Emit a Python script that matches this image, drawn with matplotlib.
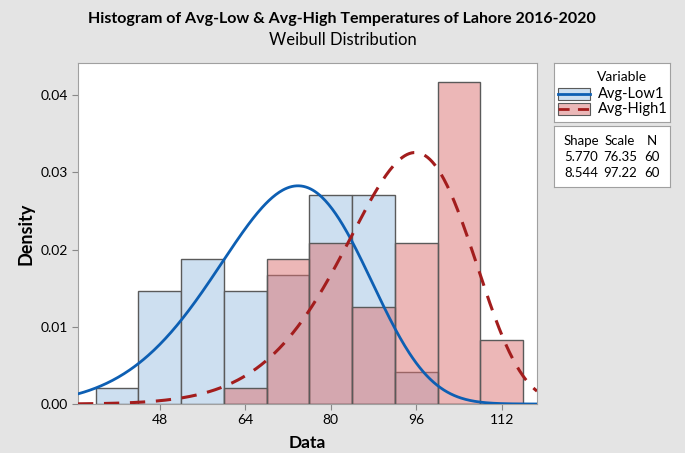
import matplotlib.pyplot as plt
import numpy as np
from matplotlib.patches import Rectangle
from matplotlib.lines import Line2D

plt.rcParams['font.family'] = ['Lato', 'DejaVu Sans']

# histogram bins (width 8) and counts, N = 60 each
bin_edges = [36, 44, 52, 60, 68, 76, 84, 92, 100, 108, 116]
low_counts = [1, 7, 9, 7, 8, 13, 13, 2, 0, 0]
high_counts = [0, 0, 0, 1, 9, 10, 6, 10, 20, 4]

# fitted Weibull parameters shown in the legend
variables = ["Avg-Low1", "Avg-High1"]
shapes = [5.770, 8.544]
scales = [76.35, 97.22]
n_obs = [60, 60]

x_ticks = [48, 64, 80, 96, 112]
y_ticks = [0.00, 0.01, 0.02, 0.03, 0.04]

bg = "#e4e4e4"
blue_fill = "#cddff0"
red_fill = (0.86, 0.44, 0.44, 0.5)
blue_line = "#0d5fb3"
red_line = "#a31d1d"
edge = "#5a5a5a"


def weibull_pdf(x, k, lam):
    z = x / lam
    return (k / lam) * z ** (k - 1) * np.exp(-z ** k)


fig = plt.figure(figsize=(6.85, 4.53), dpi=100, facecolor=bg)
W, H = 685, 453
ax = fig.add_axes([78 / W, 1 - 404 / H, (537 - 78) / W, (404 - 63) / H])
ax.set_facecolor("white")

edges = np.array(bin_edges)
width = np.diff(edges)
lefts = edges[:-1]
low_dens = np.array(low_counts) / (sum(low_counts) * width)
high_dens = np.array(high_counts) / (sum(high_counts) * width)

ax.bar(lefts, low_dens, width=width, align="edge", color=blue_fill,
       edgecolor=edge, linewidth=1.0, zorder=2)
mask = high_dens > 0
ax.bar(lefts[mask], high_dens[mask], width=width[mask], align="edge", color=red_fill,
       edgecolor=edge, linewidth=1.0, zorder=3)

xmin, xmax = 32.7, 118.6
xs = np.linspace(xmin, xmax, 400)
ax.plot(xs, weibull_pdf(xs, shapes[0], scales[0]), color=blue_line, lw=2.0, zorder=4)
ax.plot(xs, weibull_pdf(xs, shapes[1], scales[1]), color=red_line, lw=2.2,
        dashes=(5, 3.5), zorder=4)

ax.set_xlim(xmin, xmax)
ax.set_ylim(0, 0.04415)
ax.set_xticks(x_ticks)
ax.set_yticks(y_ticks)
ax.set_yticklabels([f"{v:.2f}" for v in y_ticks])
ax.tick_params(labelsize=10, color="#888888", length=4)
for s in ax.spines.values():
    s.set_color("#a0a0a0")
ax.set_xlabel("Data", fontsize=12.5, fontweight="bold", labelpad=6)
ax.set_ylabel("Density", fontsize=13, fontweight="bold", labelpad=4)

fig.text(342 / W, 1 - 19 / H, "Histogram of Avg-Low & Avg-High Temperatures of Lahore 2016-2020",
         ha="center", va="center", fontsize=11.5, fontweight="bold")
fig.text(343 / W, 1 - 40 / H, "Weibull Distribution", ha="center", va="center", fontsize=12)

# legend box with variables
lg = fig.add_axes([554 / W, 1 - 122 / H, (670 - 554) / W, (122 - 63) / H])
lg.set_xlim(0, 116)
lg.set_ylim(59, 0)
lg.set_xticks([])
lg.set_yticks([])
lg.set_facecolor("white")
for s in lg.spines.values():
    s.set_color("#a0a0a0")
lg.text(68, 14, "Variable", ha="center", va="center", fontsize=10)
fills = [blue_fill, (0.92, 0.72, 0.72)]
styles = [dict(color=blue_line, lw=2.0), dict(color=red_line, lw=2.0, dashes=(4, 3))]
for i, name in enumerate(variables):
    y = 31 + i * 15
    lg.add_patch(Rectangle((4, y - 6), 32, 12, facecolor=fills[i], edgecolor=edge, lw=0.8))
    lg.add_line(Line2D([4, 36], [y, y], **styles[i]))
    lg.text(44, y, name, ha="left", va="center", fontsize=10.5)

# legend box with parameters
tb = fig.add_axes([554 / W, 1 - 187 / H, (670 - 554) / W, (187 - 126) / H])
tb.set_xlim(0, 116)
tb.set_ylim(61, 0)
tb.set_xticks([])
tb.set_yticks([])
tb.set_facecolor("white")
for s in tb.spines.values():
    s.set_color("#a0a0a0")
col_x = [27, 66, 98]
for j, head in enumerate(["Shape", "Scale", "N"]):
    tb.text(col_x[j], 15, head, ha="center", va="center", fontsize=9.5)
for i in range(len(variables)):
    y = 31 + i * 16
    tb.text(col_x[0], y, f"{shapes[i]:.3f}", ha="center", va="center", fontsize=9.5)
    tb.text(col_x[1], y, f"{scales[i]:.2f}", ha="center", va="center", fontsize=9.5)
    tb.text(col_x[2], y, f"{n_obs[i]}", ha="center", va="center", fontsize=9.5)

fig.savefig("out.png", dpi=100, facecolor=bg)
